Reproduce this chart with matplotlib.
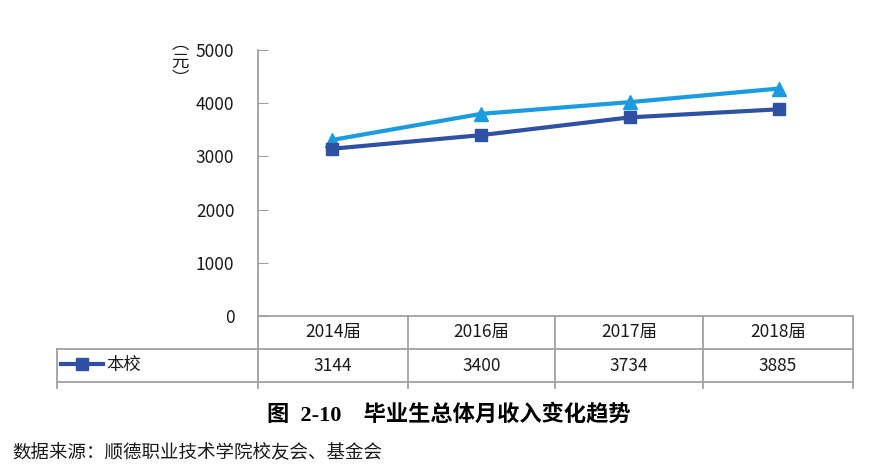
import matplotlib.pyplot as plt

# data
years = ["2014届", "2016届", "2017届", "2018届"]
school = [3144, 3400, 3734, 3885]
other = [3310, 3800, 4020, 4275]
yticks = [0, 1000, 2000, 3000, 4000, 5000]

dark = "#2E51A3"
light = "#1D9BE0"
grid_c = "#A0A0A0"
cjk = ["Noto Sans CJK SC", "DejaVu Sans"]

plt.rcParams["font.family"] = cjk

W, H = 883, 471
fig = plt.figure(figsize=(W / 100, H / 100), dpi=100)
# axes box in pixels: left 258, right 853, top 50, bottom 316
ax = fig.add_axes([258 / W, 1 - 316 / H, (853 - 258) / W, (316 - 50) / H])

x = [i + 0.5 for i in range(len(years))]
ax.plot(x, other, color=light, lw=3, marker="^", ms=10, zorder=3)
ax.plot(x, school, color=dark, lw=3, marker="s", ms=8.5, zorder=4)

ax.set_xlim(0, len(years))
ax.set_ylim(0, 5000)
ax.set_yticks(yticks)
ax.set_yticklabels([str(v) for v in yticks])
ax.tick_params(axis="y", direction="in", length=7, color=grid_c, pad=17,
               labelsize=12.5, labelcolor="#1a1a1a")
ax.set_xticks([])
for s in ["top", "right", "bottom"]:
    ax.spines[s].set_visible(False)
ax.spines["left"].set_color(grid_c)
ax.spines["left"].set_linewidth(1.3)


def px(xp, yp):
    return xp / W, 1 - yp / H


# unit label, stacked vertically like the original
for ch, yp in [("︵", 44), ("元", 62), ("︶", 79)]:
    fig.text(*px(180, yp), ch, ha="center", va="center", fontsize=12.5,
             color="#1a1a1a")

# data table drawn under the axes, in pixel coords
cols = [258, 408, 555, 703, 853]


def hline(y, x0, x1):
    fig.add_artist(plt.Line2D([x0 / W, x1 / W], [1 - y / H, 1 - y / H],
                              color=grid_c, lw=1.3))


def vline(xp, y0, y1):
    fig.add_artist(plt.Line2D([xp / W, xp / W], [1 - y0 / H, 1 - y1 / H],
                              color=grid_c, lw=1.3))


hline(316, 258, 853)
hline(349, 57, 853)
hline(382, 57, 853)
vline(57, 349, 388)
vline(258, 316, 388)
for c in cols[1:]:
    vline(c, 316, 388)

for i, (lab, v) in enumerate(zip(years, school)):
    cx = (cols[i] + cols[i + 1]) / 2
    fig.text(*px(cx, 332), lab, ha="center", va="center", fontsize=12.5,
             color="#1a1a1a")
    fig.text(*px(cx, 366), str(v), ha="center", va="center", fontsize=12.5,
             color="#1a1a1a")

# legend key in row header
fig.add_artist(plt.Line2D([61 / W, 103 / W], [1 - 364 / H, 1 - 364 / H],
                          color=dark, lw=3))
fig.add_artist(plt.Line2D([82 / W], [1 - 364 / H], color=dark, marker="s",
                          ms=8.5, lw=0))
fig.text(*px(106, 365), "本校", ha="left", va="center", fontsize=12.5,
         color="#1a1a1a")

# caption and source
fig.text(*px(449, 415), "图  2-10　毕业生总体月收入变化趋势", ha="center",
         va="center", fontsize=16, fontweight="bold",
         family=["Liberation Serif", "Noto Sans CJK SC"])
fig.text(*px(12, 452), "数据来源：顺德职业技术学院校友会、基金会", ha="left",
         va="center", fontsize=13.3, color="#1a1a1a")

fig.savefig("out.png", dpi=100)
